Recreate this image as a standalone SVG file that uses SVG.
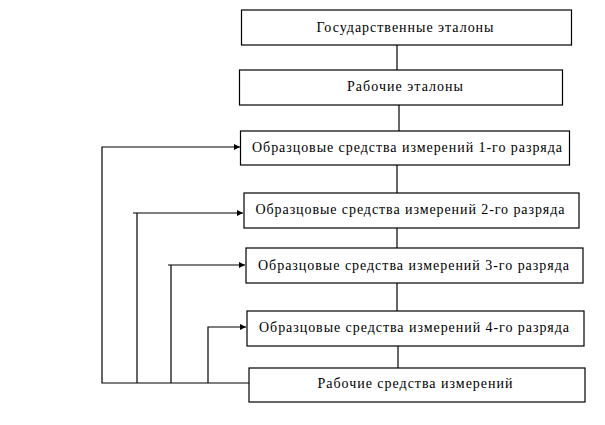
<svg xmlns="http://www.w3.org/2000/svg" width="605" height="425" viewBox="0 0 605 425">
<style>
.box rect{fill:#fff;stroke:#000;stroke-width:1.2}
.box text{font-family:"Liberation Serif","Times New Roman",serif;font-size:14px;fill:#000;text-anchor:middle}
.conn line,.conn polyline{stroke:#000;stroke-width:1.2;fill:none}
</style>
<defs>
<marker id="ah" viewBox="0 0 6 6" refX="6" refY="3" markerWidth="6" markerHeight="6" markerUnits="userSpaceOnUse" orient="auto">
<path d="M0,0 L6,3 L0,6 Z" fill="#000"/>
</marker>
</defs>
<rect width="605" height="425" fill="#fff"/>
<g class="conn">
<line x1="397" y1="45" x2="397" y2="70"/>
<line x1="399" y1="105" x2="399" y2="131"/>
<line x1="397" y1="165" x2="397" y2="193"/>
<line x1="397" y1="228" x2="397" y2="248"/>
<line x1="397" y1="283" x2="397" y2="311"/>
<line x1="398" y1="346" x2="398" y2="368"/>
<polyline points="249,383 102,383 102,147 240,147" marker-end="url(#ah)"/>
<polyline points="137,383 137,213 133,213 137,213 243,213" marker-end="url(#ah)"/>
<polyline points="171,383 171,265 168,265 171,265 245,265" marker-end="url(#ah)"/>
<polyline points="208,383 208,327 246,327" marker-end="url(#ah)"/>
</g>
<g id="n1" class="box"><rect x="241.5" y="10" width="330" height="35"/><text x="405" y="32" textLength="177" lengthAdjust="spacing">Государственные эталоны</text></g>
<g id="n2" class="box"><rect x="239.5" y="70" width="323" height="35"/><text x="405" y="91" textLength="116" lengthAdjust="spacing">Рабочие эталоны</text></g>
<g id="n3" class="box"><rect x="240.5" y="131" width="329" height="34"/><text x="407" y="152" textLength="310" lengthAdjust="spacing">Образцовые средства измерений 1-го разряда</text></g>
<g id="n4" class="box"><rect x="244" y="193" width="335" height="35"/><text x="410" y="214" textLength="309" lengthAdjust="spacing">Образцовые средства измерений 2-го разряда</text></g>
<g id="n5" class="box"><rect x="246" y="248" width="337" height="35"/><text x="413.5" y="270" textLength="311" lengthAdjust="spacing">Образцовые средства измерений 3-го разряда</text></g>
<g id="n6" class="box"><rect x="247" y="311" width="337" height="35"/><text x="414" y="332" textLength="310" lengthAdjust="spacing">Образцовые средства измерений 4-го разряда</text></g>
<g id="n7" class="box"><rect x="249" y="368" width="336" height="34"/><text x="415" y="388" textLength="195" lengthAdjust="spacing">Рабочие средства измерений</text></g>
</svg>
